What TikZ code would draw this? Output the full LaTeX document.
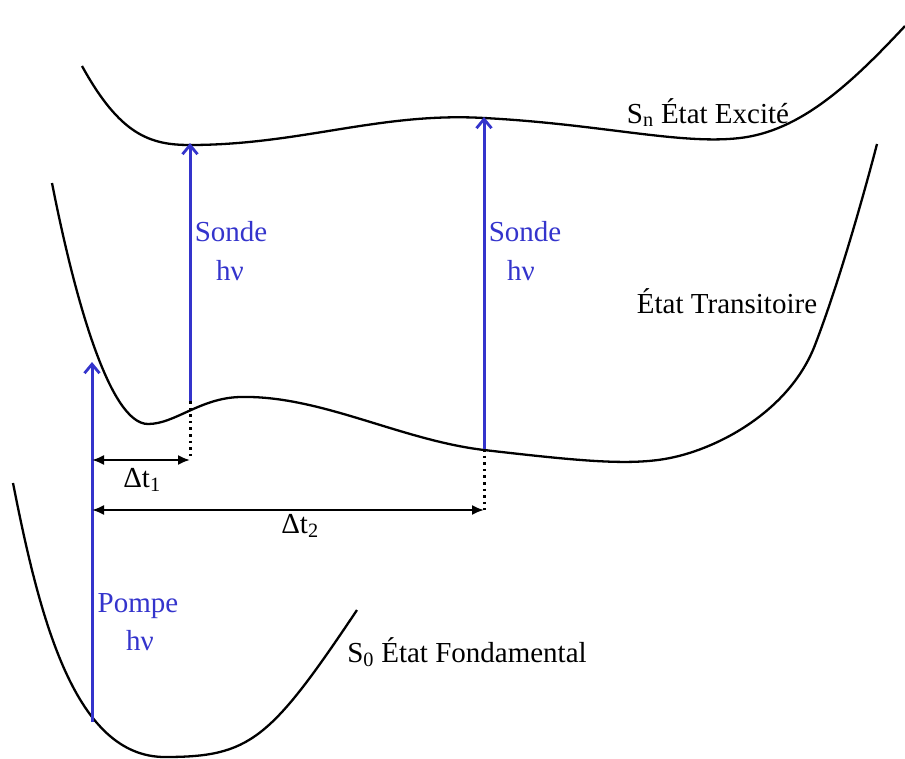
\documentclass[tikz,border=0pt]{standalone}
\usepackage{fontspec}
\setmainfont{Liberation Serif}
\usetikzlibrary{arrows.meta}
\definecolor{probe}{RGB}{52,52,204}
\begin{document}
\begin{tikzpicture}[x=1pt,y=-1pt,
  curve/.style={line width=2.3pt,black},
  beam/.style={line width=3pt,probe,-{Straight Barb[length=9pt,width=15pt,line width=2.8pt]}},
  delay/.style={line width=2pt,{Latex[length=12pt,width=10pt]}-{Latex[length=12pt,width=10pt]}},
  guide/.style={line width=3pt,dash pattern=on 2.6pt off 4pt},
  blab/.style={probe,font=\fontsize{29}{34}\selectfont,anchor=base,inner sep=0pt},
  klab/.style={black,font=\fontsize{29}{34}\selectfont,anchor=base,inner sep=0pt}]
\useasboundingbox (0,0) rectangle (905,758);
% curves
\draw[curve] (82,66) .. controls (120,135) and (150,145) .. (190,145)
  .. controls (300,145) and (380,112) .. (484,118)
  .. controls (600,124) and (680,145) .. (740,138)
  .. controls (800,131) and (850,85) .. (905,26);
\draw[curve] (52,183) .. controls (75,300) and (110,424) .. (148,424)
  .. controls (175,424) and (200,398) .. (240,397)
  .. controls (320,395) and (400,440) .. (484,450)
  .. controls (580,461) and (630,466) .. (670,458)
  .. controls (720,448) and (790,410) .. (815,345)
  .. controls (840,280) and (865,190) .. (877,144);
\draw[curve] (13,483) .. controls (40,620) and (75,757) .. (165,757)
  .. controls (250,757) and (270,740) .. (357,610);
% coordinates
\coordinate (p0) at (92,722);
\coordinate (p1) at (92,362);
\coordinate (a0) at (190,401);
\coordinate (a1) at (190,143);
\coordinate (b0) at (484,449);
\coordinate (b1) at (484,117);
\coordinate (a2) at (190,460);
\coordinate (b2) at (484,510);
\coordinate (d1) at (92,460);
\coordinate (d2) at (92,510);
% beams
\draw[beam] (p0) -- (p1);
\draw[beam] (a0) -- (a1);
\draw[beam] (b0) -- (b1);
% guides
\draw[guide] (a0) -- (a2);
\draw[guide] (b0) -- (b2);
% delays
\draw[delay] (d1) -- (a2);
\draw[delay] (d2) -- (b2);
% labels
\node[blab] (pl) at (138,612) {Pompe};
\node[blab] (ph) at (140,650) {hν};
\node[blab] (s1) at (231,241) {Sonde};
\node[blab] (h1) at (230,280) {hν};
\node[blab] (s2) at (525,241) {Sonde};
\node[blab] (h2) at (521,280) {hν};
\node[klab] (t1) at (142,487) {Δt\textsubscript{1}};
\node[klab] (t2) at (300,533) {Δt\textsubscript{2}};
\node[klab] (sn) at (708,123) {S\textsubscript{n} État Excité};
\node[klab] (st) at (727,313) {État Transitoire};
\node[klab] (s0) at (467,662) {S\textsubscript{0} État Fondamental};
\end{tikzpicture}
\end{document}
